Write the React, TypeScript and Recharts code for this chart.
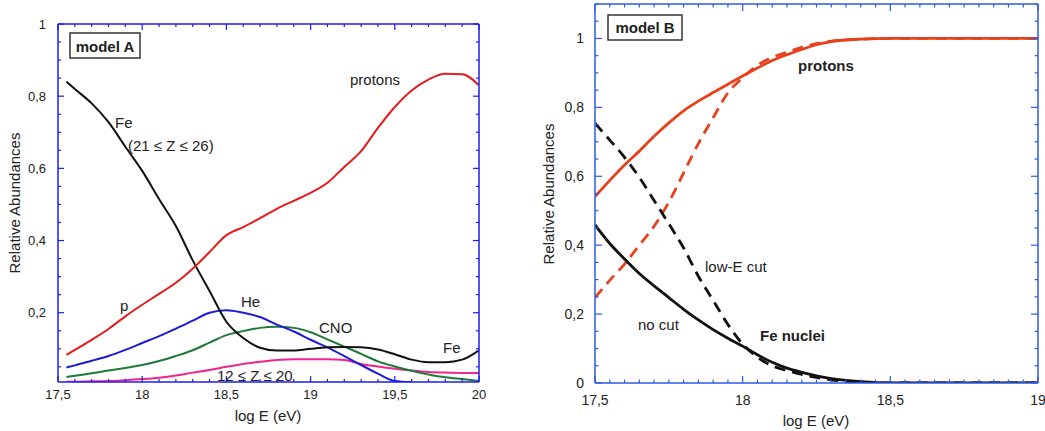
import { LineChart, Line, XAxis, YAxis } from "recharts";

// ---- model A: relative abundances per mass group ----
const energyA = [17.55, 17.6, 17.7, 17.8, 17.9, 18.0, 18.1, 18.2, 18.3, 18.4, 18.5, 18.6, 18.7, 18.8, 18.9, 19.0, 19.1, 19.2, 19.3, 19.4, 19.5, 19.6, 19.7, 19.8, 19.9, 20.0];
const protonsA = [0.083, 0.097, 0.125, 0.155, 0.19, 0.222, 0.252, 0.283, 0.322, 0.368, 0.415, 0.437, 0.462, 0.488, 0.51, 0.532, 0.56, 0.604, 0.648, 0.712, 0.77, 0.816, 0.846, 0.862, 0.861, 0.83];
const ironA = [0.84, 0.82, 0.78, 0.728, 0.66, 0.593, 0.515, 0.44, 0.345, 0.26, 0.175, 0.13, 0.103, 0.095, 0.095, 0.1, 0.104, 0.105, 0.104, 0.098, 0.085, 0.07, 0.063, 0.063, 0.07, 0.096];
const heliumA = [0.048, 0.054, 0.067, 0.08, 0.097, 0.116, 0.135, 0.156, 0.178, 0.2, 0.207, 0.2, 0.188, 0.167, 0.148, 0.125, 0.104, 0.08, 0.055, 0.031, 0.011, 0.008, null, null, null, null];
const cnoA = [0.022, 0.025, 0.032, 0.04, 0.047, 0.055, 0.066, 0.08, 0.096, 0.117, 0.138, 0.149, 0.158, 0.161, 0.158, 0.146, 0.126, 0.106, 0.086, 0.065, 0.051, 0.039, 0.029, 0.021, 0.016, 0.011];
const midZA = [0.009, 0.009, 0.01, 0.011, 0.013, 0.016, 0.02, 0.026, 0.034, 0.041, 0.05, 0.058, 0.064, 0.069, 0.071, 0.071, 0.071, 0.069, 0.058, 0.051, 0.045, 0.04, 0.036, 0.034, 0.033, 0.033];

// ---- model B: protons vs iron, with and without low-energy cut ----
const energyB = [17.5, 17.55, 17.6, 17.65, 17.7, 17.75, 17.8, 17.85, 17.9, 17.95, 18.0, 18.05, 18.1, 18.15, 18.2, 18.25, 18.3, 18.4, 18.5, 18.6, 18.7, 18.8, 18.9, 19.0];
const protonsNoCut = [0.541, 0.588, 0.633, 0.673, 0.716, 0.755, 0.79, 0.818, 0.843, 0.867, 0.891, 0.914, 0.936, 0.953, 0.968, 0.982, 0.991, 0.998, 1, 1, 1, 1, 1, 1];
const protonsCut = [0.248, 0.298, 0.345, 0.4, 0.455, 0.525, 0.61, 0.695, 0.77, 0.842, 0.886, 0.922, 0.945, 0.96, 0.974, 0.985, 0.992, 0.998, 1, 1, 1, 1, 1, 1];
const ironNoCut = [0.459, 0.405, 0.36, 0.318, 0.282, 0.248, 0.214, 0.183, 0.155, 0.13, 0.107, 0.082, 0.06, 0.043, 0.031, 0.021, 0.013, 0.004, 0, 0, 0, 0, 0, 0];
const ironCut = [0.754, 0.705, 0.655, 0.597, 0.53, 0.462, 0.392, 0.31, 0.24, 0.17, 0.113, 0.075, 0.05, 0.036, 0.025, 0.016, 0.009, 0.002, 0, 0, 0, 0, 0, 0];

// labelled ticks
const xMajorA = [17.5, 18, 18.5, 19, 19.5, 20];
const yMajorA = [0.2, 0.4, 0.6, 0.8, 1];
const xMajorB = [17.5, 18, 18.5, 19];
const yMajorB = [0, 0.2, 0.4, 0.6, 0.8, 1];

const rowsA = energyA.map((e, i) => ({
  e,
  protons: protonsA[i],
  fe: ironA[i],
  he: heliumA[i],
  cno: cnoA[i],
  midZ: midZA[i],
}));

const rowsB = energyB.map((e, i) => ({
  e,
  pNoCut: protonsNoCut[i],
  pCut: protonsCut[i],
  feNoCut: ironNoCut[i],
  feCut: ironCut[i],
}));

const FONT = "'Liberation Sans', Arial, Helvetica, sans-serif";
const INK = "#222";

type Side = "bottom" | "top" | "left" | "right";
interface FrameStyle {
  color: string;
  major: number;
  minor: number;
  fontSize: number;
  gap: number;
}

const isOn = (v: number, list: number[]) => list.some((m) => Math.abs(m - v) < 1e-6);
const decimal = (v: number) => String(v).replace(".", ",");

function steps(from: number, to: number, step: number) {
  const out: number[] = [];
  const n = Math.round((to - from) / step);
  for (let i = 0; i <= n; i++) out.push(Number((from + i * step).toFixed(3)));
  return out;
}

// ticks point inward from the frame; only bottom/left carry labels
function frameTick(side: Side, majors: number[], s: FrameStyle) {
  return (props: any) => {
    const { x, y, payload } = props;
    const v = payload.value as number;
    const major = isOn(v, majors);
    const len = major ? s.major : s.minor;
    const dx = side === "left" ? len : side === "right" ? -len : 0;
    const dy = side === "bottom" ? -len : side === "top" ? len : 0;
    const textStyle = { fontFamily: FONT, fontSize: s.fontSize, fill: INK };
    return (
      <g>
        <line x1={x} y1={y} x2={x + dx} y2={y + dy} stroke={s.color} strokeWidth={1.2} />
        {major && side === "bottom" && (
          <text x={x} y={y + s.gap} textAnchor="middle" dominantBaseline="central" style={textStyle}>
            {decimal(v)}
          </text>
        )}
        {major && side === "left" && (
          <text x={x - s.gap} y={y} textAnchor="end" dominantBaseline="central" style={textStyle}>
            {decimal(v)}
          </text>
        )}
      </g>
    );
  };
}

const frameA: FrameStyle = { color: "#1c1cf0", major: 6, minor: 3, fontSize: 13, gap: 12 };
const frameB: FrameStyle = { color: "#2f5ae6", major: 7, minor: 3.5, fontSize: 14, gap: 11 };

const xTicksA = steps(17.5, 20, 0.1);
const yTicksA = steps(0.05, 1, 0.05);
const xTicksB = steps(17.5, 19, 0.05);
const yTicksB = steps(0, 1.1, 0.05);

function ModelA() {
  const xDomain: [number, number] = [17.5, 20];
  const yDomain: [number, number] = [0.008, 1];
  const common = { dot: false, activeDot: false, isAnimationActive: false, type: "monotone" as const, xAxisId: "b", yAxisId: "l", strokeWidth: 2 };
  return (
    <LineChart width={490} height={431} data={rowsA} margin={{ top: 23, right: 10, bottom: 0, left: 0 }}>
      <XAxis xAxisId="b" dataKey="e" type="number" domain={xDomain} allowDataOverflow ticks={xTicksA} interval={0}
        height={49} tickSize={0} tickMargin={0} tickLine={false} axisLine={{ stroke: frameA.color, strokeWidth: 1.5 }}
        tick={frameTick("bottom", xMajorA, frameA)} />
      <XAxis xAxisId="t" orientation="top" dataKey="e" type="number" domain={xDomain} allowDataOverflow ticks={xTicksA} interval={0}
        height={1} tickSize={0} tickMargin={0} tickLine={false} axisLine={{ stroke: frameA.color, strokeWidth: 1.5 }}
        tick={frameTick("top", xMajorA, frameA)} />
      <YAxis yAxisId="l" type="number" domain={yDomain} allowDataOverflow ticks={yTicksA} interval={0}
        width={58} tickSize={0} tickMargin={0} tickLine={false} axisLine={{ stroke: frameA.color, strokeWidth: 1.5 }}
        tick={frameTick("left", yMajorA, frameA)} />
      <YAxis yAxisId="r" orientation="right" type="number" domain={yDomain} allowDataOverflow ticks={yTicksA} interval={0}
        width={1} tickSize={0} tickMargin={0} tickLine={false} axisLine={{ stroke: frameA.color, strokeWidth: 1.5 }}
        tick={frameTick("right", yMajorA, frameA)} />
      <Line {...common} dataKey="midZ" stroke="#f0248e" />
      <Line {...common} dataKey="cno" stroke="#1f7a35" />
      <Line {...common} dataKey="he" stroke="#1b1bd9" />
      <Line {...common} dataKey="fe" stroke="#111111" />
      <Line {...common} dataKey="protons" stroke="#e41b1b" />
    </LineChart>
  );
}

function ModelB() {
  const xDomain: [number, number] = [17.5, 19];
  const yDomain: [number, number] = [0, 1.1];
  const common = { dot: false, activeDot: false, isAnimationActive: false, type: "monotone" as const, xAxisId: "b", yAxisId: "l", strokeWidth: 2.8 };
  return (
    <LineChart width={515} height={431} data={rowsB} margin={{ top: 3, right: 6, bottom: 0, left: 0 }}>
      <XAxis xAxisId="b" dataKey="e" type="number" domain={xDomain} allowDataOverflow ticks={xTicksB} interval={0}
        height={48} tickSize={0} tickMargin={0} tickLine={false} axisLine={{ stroke: frameB.color, strokeWidth: 1.5 }}
        tick={frameTick("bottom", xMajorB, { ...frameB, gap: 17 })} />
      <XAxis xAxisId="t" orientation="top" dataKey="e" type="number" domain={xDomain} allowDataOverflow ticks={xTicksB} interval={0}
        height={1} tickSize={0} tickMargin={0} tickLine={false} axisLine={{ stroke: frameB.color, strokeWidth: 1.5 }}
        tick={frameTick("top", xMajorB, frameB)} />
      <YAxis yAxisId="l" type="number" domain={yDomain} allowDataOverflow ticks={yTicksB} interval={0}
        width={65} tickSize={0} tickMargin={0} tickLine={false} axisLine={{ stroke: frameB.color, strokeWidth: 1.5 }}
        tick={frameTick("left", yMajorB, frameB)} />
      <YAxis yAxisId="r" orientation="right" type="number" domain={yDomain} allowDataOverflow ticks={yTicksB} interval={0}
        width={1} tickSize={0} tickMargin={0} tickLine={false} axisLine={{ stroke: frameB.color, strokeWidth: 1.5 }}
        tick={frameTick("right", yMajorB, frameB)} />
      <Line {...common} dataKey="pCut" stroke="#e8401a" strokeDasharray="11 7" />
      <Line {...common} dataKey="feCut" stroke="#111111" strokeDasharray="11 7" />
      <Line {...common} dataKey="pNoCut" stroke="#e8401a" />
      <Line {...common} dataKey="feNoCut" stroke="#111111" />
    </LineChart>
  );
}

// titles, curve names and the model boxes
function Annotations() {
  const t = (size: number, bold = false) => ({ fontFamily: FONT, fontSize: size, fill: INK, fontWeight: bold ? 700 : 400 });
  return (
    <svg width={1045} height={431} style={{ position: "absolute", left: 0, top: 0, pointerEvents: "none" }}>
      {/* model A */}
      <rect x={70} y={33} width={70} height={25} fill="#fff" stroke="#333" strokeWidth={1.5} />
      <text x={105} y={52} textAnchor="middle" style={t(15, true)}>model A</text>
      <text x={115} y={128} style={t(15)}>Fe</text>
      <text x={128} y={151} style={t(15)}>(21 ≤ Z ≤ 26)</text>
      <text x={350} y={85} style={t(15)}>protons</text>
      <text x={120} y={311} style={t(15)}>p</text>
      <text x={241} y={307} style={t(15)}>He</text>
      <text x={319} y={333} style={t(15)}>CNO</text>
      <text x={443} y={353} style={t(15)}>Fe</text>
      <text x={217} y={381} style={t(15)}>12 ≤ Z ≤ 20</text>
      <text x={268} y={421} textAnchor="middle" style={t(15)}>log E (eV)</text>
      <text x={20} y={203} textAnchor="middle" transform="rotate(-90 20 203)" style={t(15)}>Relative Abundances</text>

      {/* model B */}
      <rect x={608} y={15} width={74} height={25} fill="#fff" stroke="#333" strokeWidth={1.5} />
      <text x={645} y={33} textAnchor="middle" style={t(15, true)}>model B</text>
      <text x={798} y={71} style={t(15, true)}>protons</text>
      <text x={705} y={272} style={t(15)}>low-E cut</text>
      <text x={638} y={330} style={t(15)}>no cut</text>
      <text x={760} y={341} style={t(15, true)}>Fe nuclei</text>
      <text x={816} y={426} textAnchor="middle" style={t(15)}>log E (eV)</text>
      <text x={554} y={194} textAnchor="middle" transform="rotate(-90 554 194)" style={t(15)}>Relative Abundances</text>
    </svg>
  );
}

export default function App() {
  return (
    <div style={{ position: "absolute", left: 0, top: 0, width: 1045, height: 431, background: "#fff", overflow: "hidden" }}>
      <div style={{ position: "absolute", left: 0, top: 0 }}>
        <ModelA />
      </div>
      <div style={{ position: "absolute", left: 530, top: 0 }}>
        <ModelB />
      </div>
      <Annotations />
    </div>
  );
}
